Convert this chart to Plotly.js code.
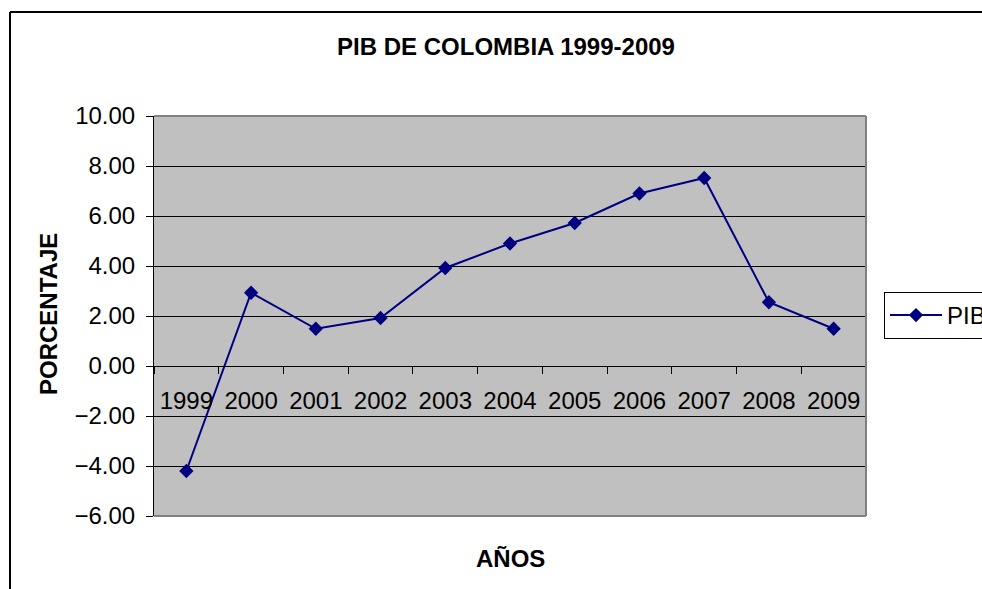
<!DOCTYPE html>
<html>
<head>
<meta charset="utf-8">
<script src="https://cdn.plot.ly/plotly-3.0.1.min.js"></script>
<style>
html,body{margin:0;padding:0;background:#fff;}
#chart{width:982px;height:589px;}
</style>
</head>
<body>
<div id="chart"></div>
<script>
var years = ["1999","2000","2001","2002","2003","2004","2005","2006","2007","2008","2009"];
var pib = [-4.2, 2.93, 1.49, 1.92, 3.92, 4.9, 5.72, 6.9, 7.52, 2.55, 1.49];
var seriesName = "PIB";
var chartTitle = "PIB DE COLOMBIA 1999-2009";
var xTitle = "AÑOS";
var yTitle = "PORCENTAJE";

var FONT = "Liberation Sans, Arial, sans-serif";

var trace = {
  type: "scatter",
  mode: "lines+markers",
  x: years,
  y: pib,
  name: seriesName,
  line: {color: "#000080", width: 2},
  marker: {symbol: "diamond", size: 11, color: "#000080"},
  showlegend: true
};

var layout = {
  width: 982,
  height: 589,
  paper_bgcolor: "#ffffff",
  plot_bgcolor: "#c0c0c0",
  margin: {l: 154, r: 116, t: 116, b: 73, autoexpand: false},
  font: {family: FONT, color: "#000000", size: 24},
  title: {
    text: "<b>" + chartTitle + "</b>",
    font: {family: FONT, size: 24, color: "#000"},
    xref: "paper", x: (506 - 154) / 712, xanchor: "center",
    yref: "container", y: 1 - 47/589, yanchor: "middle"
  },
  xaxis: {
    type: "category",
    range: [-0.5, 10.5],
    anchor: "free",
    position: 0.375,
    showline: true, linecolor: "#000", linewidth: 1,
    ticks: "outside", ticklen: 7, tickcolor: "#000", tickwidth: 1,
    tickson: "boundaries",
    showgrid: false, zeroline: false,
    tickfont: {family: FONT, size: 24, color: "#000"},
    ticklabelstandoff: 13
  },
  yaxis: {
    range: [-6, 10],
    dtick: 2, tick0: 0,
    tickformat: ".2f",
    showline: true, linecolor: "#000", linewidth: 1,
    ticks: "outside", ticklen: 7, tickcolor: "#000", tickwidth: 1,
    showgrid: true, gridcolor: "#000", gridwidth: 1,
    zeroline: false,
    tickfont: {family: FONT, size: 24, color: "#000"},
    ticklabelstandoff: 6
  },
  legend: {
    x: (884 - 154) / 712, xanchor: "left",
    y: (516 - 315.5) / 400, yanchor: "middle",
    bgcolor: "#ffffff", bordercolor: "#000", borderwidth: 1,
    itemwidth: 52,
    font: {family: FONT, size: 24, color: "#000"}
  },
  annotations: [
    {text: "<b>" + xTitle + "</b>", xref: "paper", yref: "paper",
     x: (510 - 154) / 712, y: (516 - 558) / 400, xanchor: "center", yanchor: "middle",
     showarrow: false, font: {family: FONT, size: 24, color: "#000"}},
    {text: "<b>" + yTitle + "</b>", xref: "paper", yref: "paper",
     x: (48 - 154) / 712, y: (516 - 314) / 400, xanchor: "center", yanchor: "middle",
     textangle: -90, showarrow: false, font: {family: FONT, size: 24, color: "#000"}}
  ],
  shapes: [
    {type: "line", xref: "paper", yref: "paper", x0: 0, x1: 1, y0: 1, y1: 1, line: {color: "#808080", width: 2}, layer: "above"},
    {type: "line", xref: "paper", yref: "paper", x0: 1, x1: 1, y0: 0, y1: 1, line: {color: "#808080", width: 2}, layer: "above"},
    {type: "line", xref: "paper", yref: "paper", x0: 0, x1: 1, y0: 0, y1: 0, line: {color: "#808080", width: 2}, layer: "above"},
    {type: "line", xref: "paper", yref: "paper", x0: (10 - 154) / 712, x1: (10 - 154) / 712, y0: (516 - 12) / 400, y1: -0.3, line: {color: "#000", width: 2}, layer: "above"},
    {type: "line", xref: "paper", yref: "paper", x0: (10 - 154) / 712, x1: 1.25, y0: (516 - 12) / 400, y1: (516 - 12) / 400, line: {color: "#000", width: 2}, layer: "above"}
  ]
};

Plotly.newPlot("chart", [trace], layout, {displayModeBar: false, staticPlot: true});
</script>
</body>
</html>
